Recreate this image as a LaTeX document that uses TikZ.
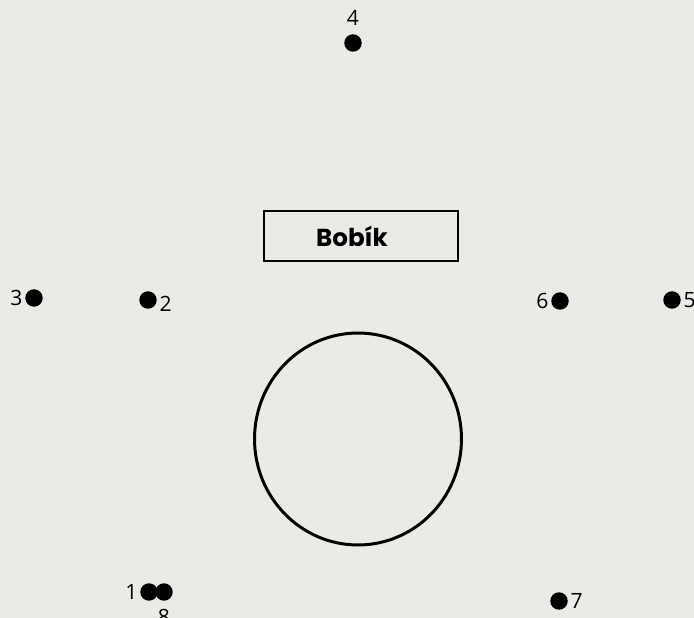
\documentclass[tikz,border=0pt]{standalone}
\usepackage{fontspec}
\setmainfont{Open Sans}
\newfontfamily\boxfont{Poppins}
\usetikzlibrary{math}
\definecolor{paper}{RGB}{236,234,230}

\begin{document}
\begin{tikzpicture}[x=0.02cm, y=-0.02cm,
  dot/.style={circle, fill=black, inner sep=0, minimum size=0.35cm},
  every label/.style={inner sep=0, font=\fontsize{12}{14}\selectfont},
  label distance=1.2pt]
\tikzmath{
\W=694;
\H=618;
\circx=358;
\circy=439;
}

\fill[paper] (0,0) rectangle (\W,\H);
\useasboundingbox (0,0) rectangle (\W,\H);

\node[dot, label={[label distance=4.5pt]above:4}] (d4) at (353,43) {};
\node[dot, label=left:3] (d3) at (34,298) {};
\node[dot, label={[yshift=-2.3pt]right:2}] (d2) at (148,300) {};
\node[dot, label=left:6] (d6) at (560,301) {};
\node[dot, label=right:5] (d5) at (672,300) {};
\node[dot, label=left:1] (d1) at (149,592) {};
\node[dot, label={[label distance=4.5pt]below:8}] (d8) at (164,592) {};
\node[dot, label=right:7] (d7) at (559,601) {};

\node[draw, line width=1.4pt, minimum width=3.88cm, minimum height=1cm] (box) at (361,236) {};
\node[font=\boxfont\bfseries\fontsize{14}{16}\selectfont] (name) at (352,236) {Bobík};

\draw[line width=1.7pt] (\circx,\circy) ellipse [x radius=2.07cm, y radius=2.12cm];
\end{tikzpicture}
\end{document}
